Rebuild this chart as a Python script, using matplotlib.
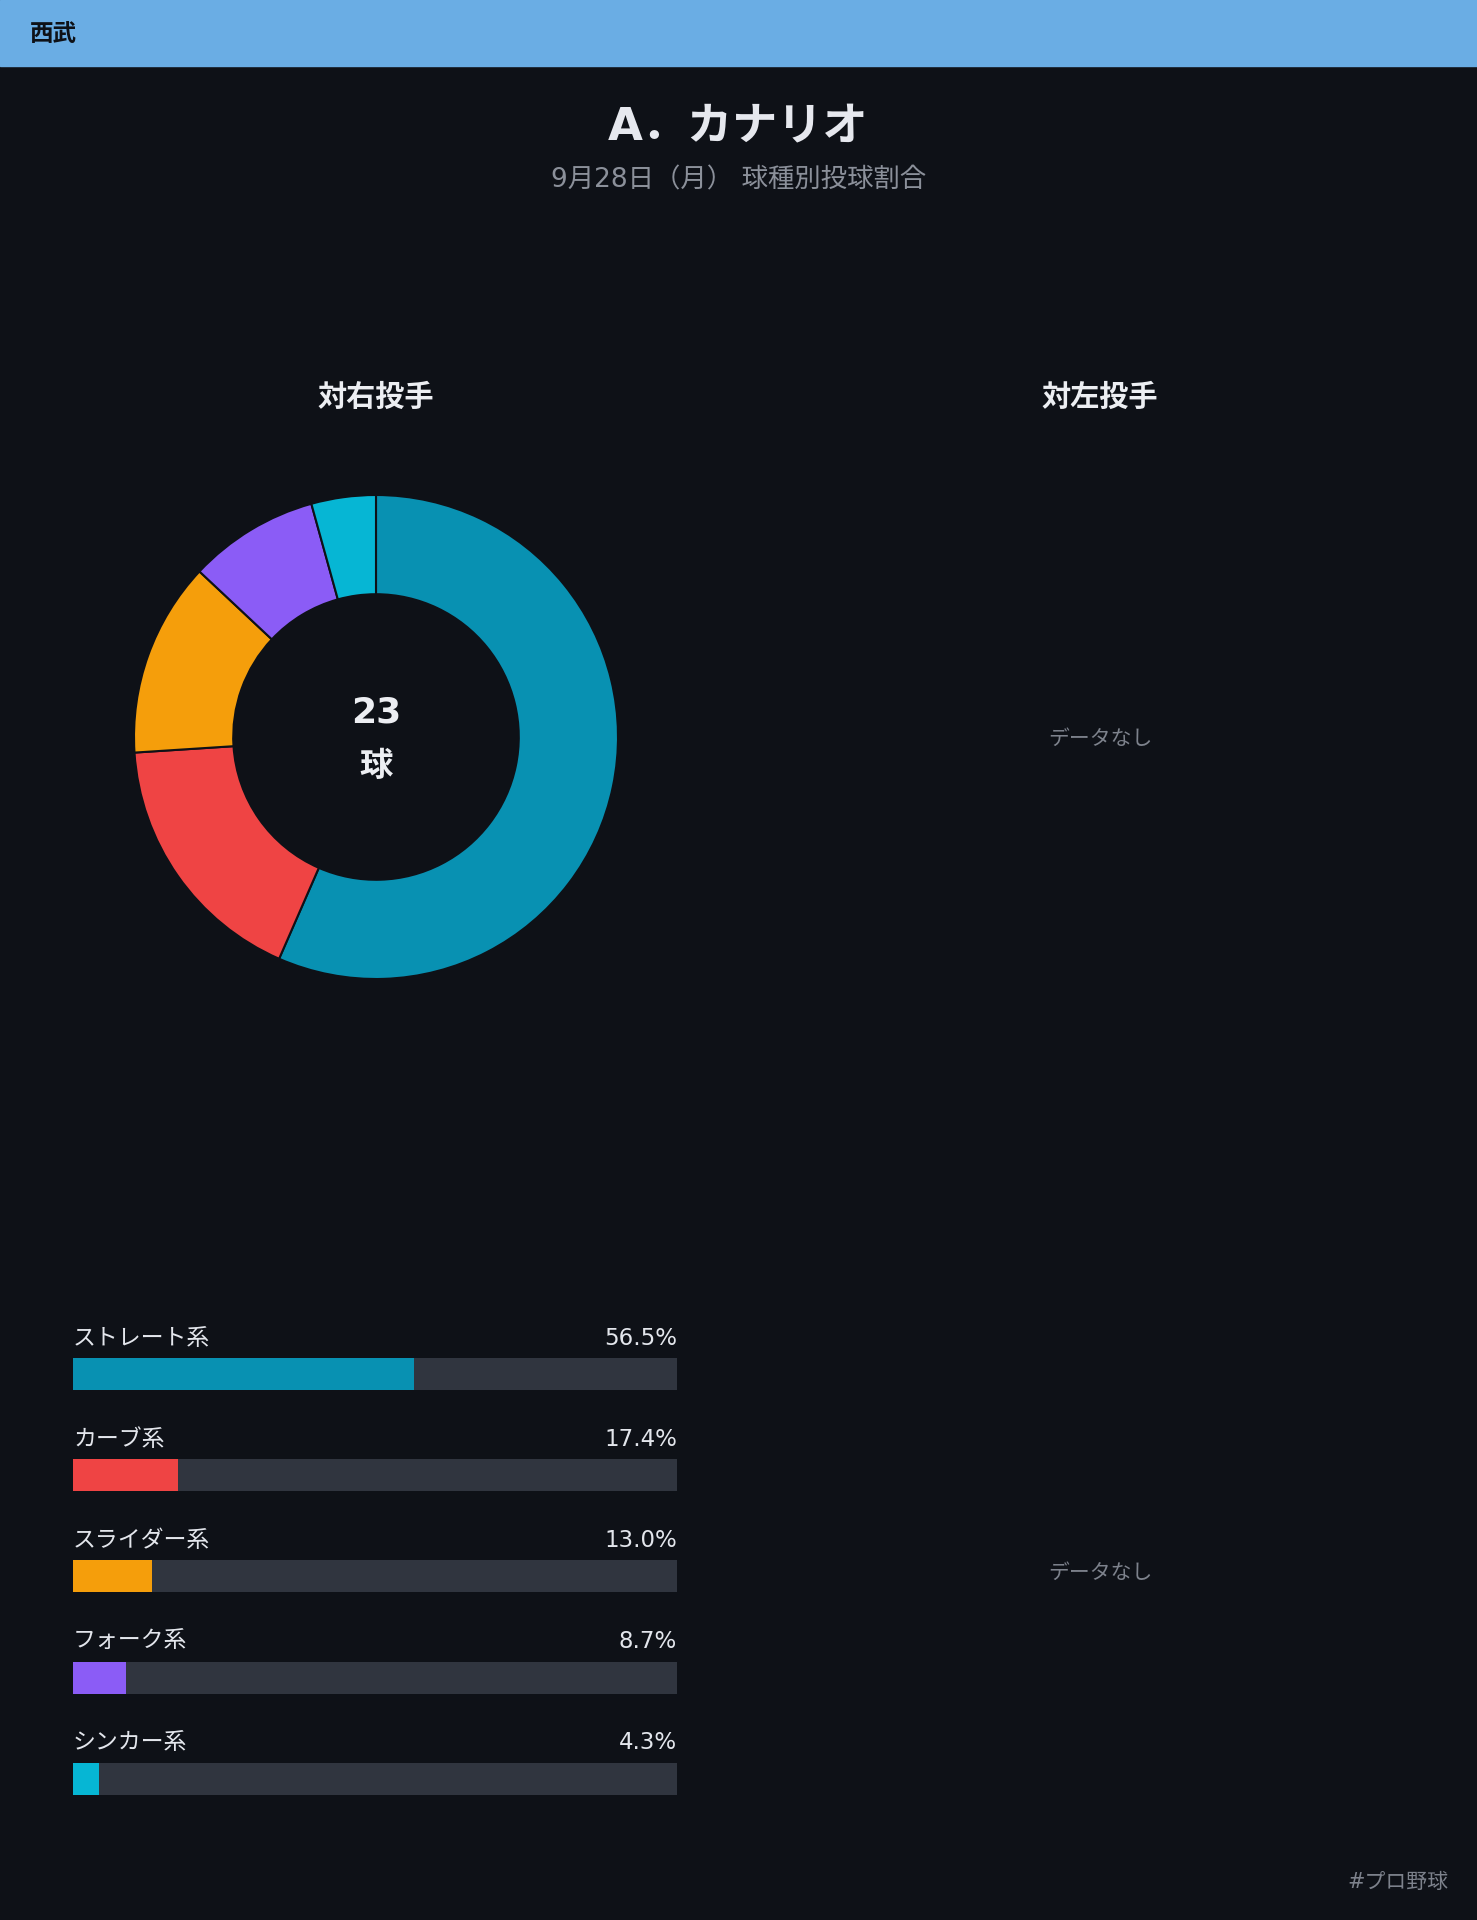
import matplotlib
matplotlib.use("Agg")
import matplotlib.pyplot as plt
from matplotlib.patches import Rectangle

plt.rcParams['font.family'] = ['DejaVu Sans', 'Noto Sans CJK JP']

# ---- data ----
team = "西武"
player = "A．カナリオ"
subtitle = "9月28日（月） 球種別投球割合"
pitch_types = ["ストレート系", "カーブ系", "スライダー系", "フォーク系", "シンカー系"]
pct_vs_right = [56.5, 17.4, 13.0, 8.7, 4.3]
total_vs_right = 23
colors = ["#0891b2", "#ef4444", "#f59e0b", "#8b5cf6", "#06b6d4"]

BG = "#0e1117"
W, H = 1477, 1920
fig = plt.figure(figsize=(W / 100, H / 100), dpi=100, facecolor=BG)

def fx(x): return x / W
def fy(y): return 1 - y / H

# header bar
fig.patches.append(Rectangle((0, fy(66)), 1, 66 / H, transform=fig.transFigure,
                             color="#6aade4", zorder=0))
fig.text(fx(30), fy(34), team, fontsize=17, fontweight="bold", color="#0e1117",
         ha="left", va="center")

# titles
fig.text(0.5, fy(127), player, fontsize=32.5, fontweight="bold", color="#e6e8ee",
         ha="center", va="center")
fig.text(0.5, fy(180), subtitle, fontsize=19, color="#8b909a", ha="center", va="center")

fig.text(fx(376), fy(398), "対右投手", fontsize=21, fontweight="bold", color="#eceef2",
         ha="center", va="center")
fig.text(fx(1100), fy(398), "対左投手", fontsize=21, fontweight="bold", color="#eceef2",
         ha="center", va="center")

# donut (vs right)
side = 500
ax = fig.add_axes([fx(376 - side / 2), fy(737 + side / 2), side / W, side / H])
ax.set_facecolor(BG)
ax.pie(pct_vs_right, colors=colors, startangle=90, counterclock=False, radius=1,
       wedgeprops=dict(width=0.41, edgecolor="#0e1117", linewidth=1.5))
lim = side / 2 / 242
ax.set_xlim(-lim, lim); ax.set_ylim(-lim, lim)
ax.set_aspect("equal"); ax.axis("off")
ax.text(0, 0.10, str(total_vs_right), fontsize=26, fontweight="bold", color="#eceef2",
        ha="center", va="center")
ax.text(0, -0.12, "球", fontsize=24, fontweight="bold", color="#eceef2",
        ha="center", va="center")

# no data (vs left)
fig.text(fx(1100), fy(739), "データなし", fontsize=15, color="#7d828c", ha="center", va="center")
fig.text(fx(1100), fy(1573), "データなし", fontsize=15, color="#7d828c", ha="center", va="center")

# progress bars (pixel coords inside axes)
x0, x1 = 73, 677
y_top, y_bot = 1300, 1820
bx = fig.add_axes([fx(x0), fy(y_bot), (x1 - x0) / W, (y_bot - y_top) / H])
bx.set_facecolor(BG)
bx.set_xlim(0, 100); bx.set_ylim(y_bot, y_top)
bx.axis("off")
step = 101.2
for i, (name, p, c) in enumerate(zip(pitch_types, pct_vs_right, colors)):
    yb = 1374 + i * step
    yl = 1338 + i * step
    bx.barh(yb, 100, height=32, color="#30353f", left=0)
    bx.barh(yb, p, height=32, color=c, left=0)
    bx.text(0, yl, name, fontsize=16.5, color="#e3e6ec", ha="left", va="center")
    bx.text(100, yl, f"{p:.1f}%", fontsize=16.5, color="#e3e6ec", ha="right", va="center")

fig.text(fx(1448), fy(1882), "#プロ野球", fontsize=15, color="#7d828c", ha="right", va="center")

fig.savefig("out.png", dpi=100, facecolor=BG)
